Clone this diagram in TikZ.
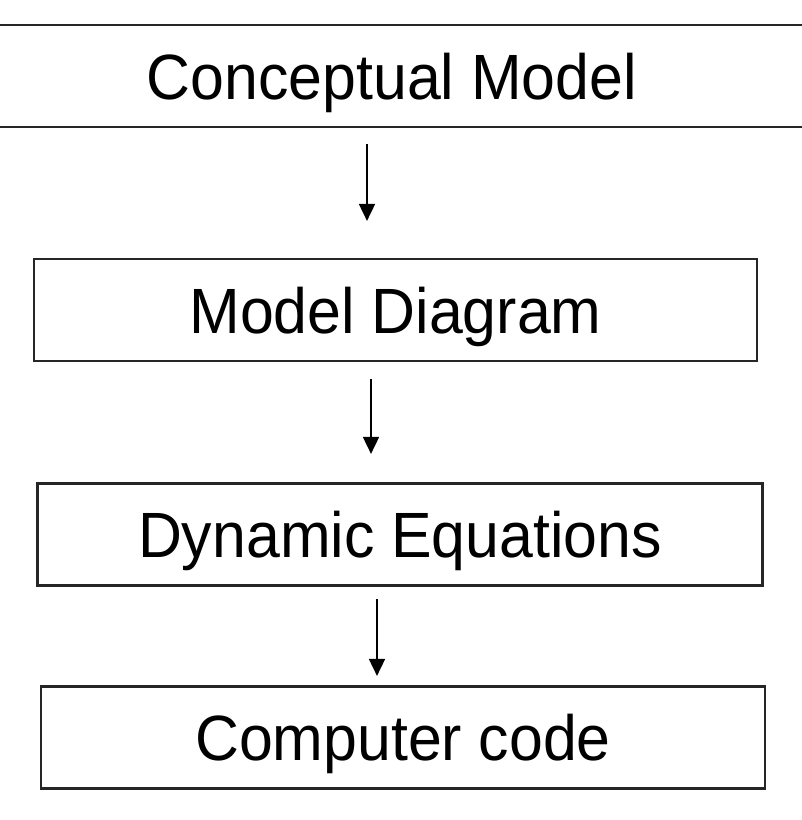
\documentclass[tikz,border=0pt]{standalone}
\usepackage{fontspec}
\usepackage{tikz}
\usetikzlibrary{arrows.meta}
\newfontfamily\boxfont[FakeStretch=0.95]{Liberation Sans}

\begin{document}
\begin{tikzpicture}[x=1pt, y=-1pt,
  stage/.style={draw=black!85, line width=2.2pt, inner sep=0pt,
    minimum height=102pt, text height=46pt, text depth=0pt,
    font=\boxfont\fontsize{64}{70}\selectfont},
  flow/.style={-{Triangle[length=17pt,width=16pt]}, line width=1.8pt}]
  \useasboundingbox (0,0) rectangle (802,820);
  \node[stage, minimum width=860pt] (cm) at (392,76) {Conceptual Model};
  \node[stage, minimum width=723pt] (md) at (395.5,310) {Model Diagram};
  \node[stage, minimum width=725pt] (de) at (400,534.5) {Dynamic Equations};
  \node[stage, minimum width=724pt] (cc) at (403,737.5) {Computer code};
  % arrow columns
  \coordinate (col1) at (367,0);
  \coordinate (col2) at (371,0);
  \coordinate (col3) at (377,0);
  \draw[flow, shorten <=16pt, shorten >=37pt] (cm.south -| col1) -- (md.north -| col1);
  \draw[flow, shorten <=17pt, shorten >=28.5pt] (md.south -| col2) -- (de.north -| col2);
  \draw[flow, shorten <=12.5pt, shorten >=9.5pt] (de.south -| col3) -- (cc.north -| col3);
\end{tikzpicture}
\end{document}
